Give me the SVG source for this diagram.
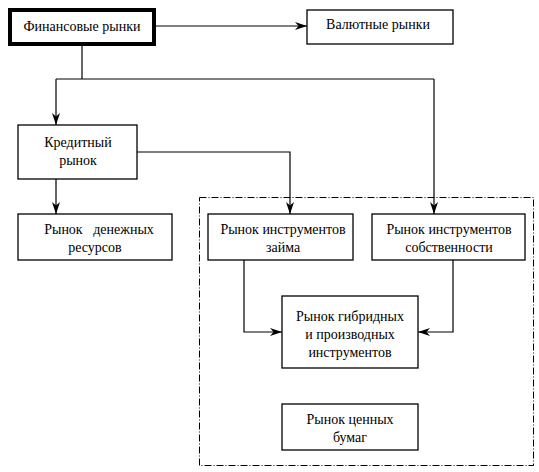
<svg xmlns="http://www.w3.org/2000/svg" width="539" height="472" viewBox="0 0 539 472">
<defs>
<marker id="arr" viewBox="0 0 12 8" refX="12" refY="4" markerWidth="12" markerHeight="8" markerUnits="userSpaceOnUse" orient="auto">
<path d="M0,0 L12,4 L0,8 L3.5,4 Z" fill="#000"/>
</marker>
</defs>
<style>
.box{fill:#fff;stroke:#000;stroke-width:1.3}
.thick{fill:#fff;stroke:#000;stroke-width:4}
text{font-family:'Times New Roman','Liberation Serif','DejaVu Serif',serif;font-size:14px;fill:#000;text-anchor:middle}
.c{fill:none;stroke:#000;stroke-width:1.2}
.dash{fill:none;stroke:#000;stroke-width:1;stroke-dasharray:7,2,1,2}
</style>
<rect class="dash" x="199.5" y="197.5" width="334" height="268"/>
<g id="connectors">
<line class="c" x1="155" y1="26" x2="307" y2="26" marker-end="url(#arr)"/>
<polyline class="c" points="82,46 82,79"/>
<polyline class="c" points="56,79 434,79"/>
<line class="c" x1="56" y1="79" x2="56" y2="125" marker-end="url(#arr)"/>
<line class="c" x1="434" y1="79" x2="434" y2="214" marker-end="url(#arr)"/>
<line class="c" x1="56" y1="179" x2="56" y2="214" marker-end="url(#arr)"/>
<polyline class="c" points="137,152 290,152 290,214" marker-end="url(#arr)"/>
<polyline class="c" points="244,260 244,332 282,332" marker-end="url(#arr)"/>
<polyline class="c" points="453,260 453,332 418,332" marker-end="url(#arr)"/>
</g>
<g id="fin">
<rect class="thick" x="10" y="10" width="144" height="34"/>
<text x="82" y="31">Финансовые рынки</text>
</g>
<g id="val">
<rect class="box" x="307" y="10" width="146" height="34"/>
<text x="378" y="29">Валютные рынки</text>
</g>
<g id="kred">
<rect class="box" x="18" y="125" width="119" height="54"/>
<text x="78" y="147">Кредитный</text>
<text x="78" y="165">рынок</text>
</g>
<g id="den">
<rect class="box" x="18" y="214" width="154" height="46"/>
<text x="99" y="234" xml:space="preserve">Рынок   денежных</text>
<text x="95" y="252">ресурсов</text>
</g>
<g id="zaim">
<rect class="box" x="208" y="214" width="145" height="46"/>
<text x="283" y="234">Рынок инструментов</text>
<text x="283" y="252">займа</text>
</g>
<g id="sobst">
<rect class="box" x="372" y="214" width="153" height="46"/>
<text x="449" y="234">Рынок инструментов</text>
<text x="449" y="252">собственности</text>
</g>
<g id="gibr">
<rect class="box" x="282" y="296" width="136" height="72"/>
<text x="350" y="321">Рынок гибридных</text>
<text x="350" y="339">и производных</text>
<text x="350" y="357">инструментов</text>
</g>
<g id="cb">
<rect class="box" x="282" y="404" width="136" height="46"/>
<text x="350" y="424">Рынок ценных</text>
<text x="350" y="442">бумаг</text>
</g>
</svg>
